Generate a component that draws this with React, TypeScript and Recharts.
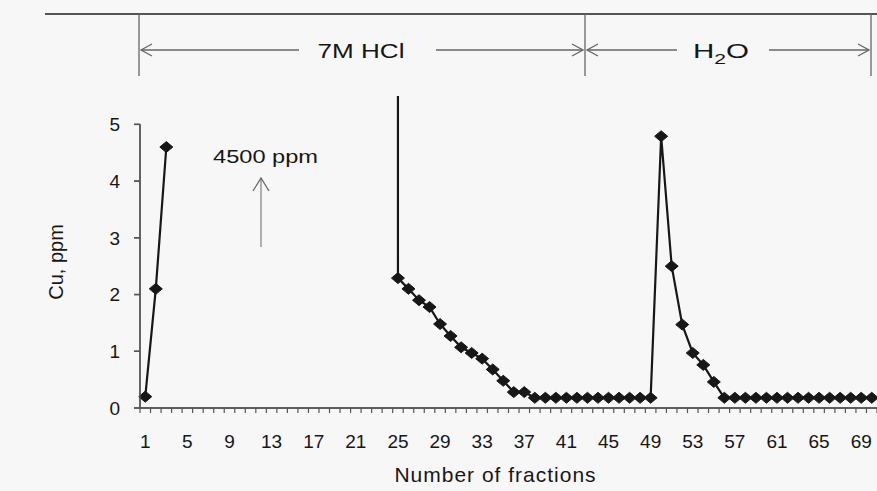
import { Label, Line, LineChart, ReferenceLine, XAxis, YAxis } from "recharts";

// Cu in the eluate, ppm, fraction by fraction (1..70).
// Fractions 4-23 were not plotted; 24 is the off-scale 4500 ppm peak.
const CU_PPM: (number | null)[] = [
  0.2, 2.1, 4.6,
  null, null, null, null, null, null, null, null, null, null,
  null, null, null, null, null, null, null, null, null, null,
  4500,
  2.29, 2.1, 1.9, 1.78, 1.48, 1.27, 1.07, 0.97, 0.87, 0.68, 0.48, 0.28, 0.28,
  0.18, 0.18, 0.18, 0.18, 0.18, 0.18, 0.18, 0.18, 0.18, 0.18, 0.18, 0.18,
  4.79, 2.5, 1.47, 0.97, 0.76, 0.46,
  0.18, 0.18, 0.18, 0.18, 0.18, 0.18, 0.18, 0.18, 0.18, 0.18, 0.18, 0.18, 0.18, 0.18, 0.18,
];

const X_LABEL_TICKS = [1, 5, 9, 13, 17, 21, 25, 29, 33, 37, 41, 45, 49, 53, 57, 61, 65, 69];
const Y_TICKS = [0, 1, 2, 3, 4, 5];
const Y_MAX = 5.5;

const W = 877;
const H = 491;
// plot box: margin.top, YAxis width, and the two stacked x axes (8 + 75)
const PLOT_TOP = 96;
const PLOT_LEFT = 140;
const PLOT_BOTTOM = H - 8 - 75;

const FONT = '"Liberation Sans", Arial, sans-serif';
const INK = "#171717";
const TEXT = "#161616";
const AXIS = "#555555";
const RULE = "#666666";

const data = CU_PPM.map((cu, i) => ({ fraction: i + 1, cu }));
// tick marks sit between the fractions, like an Excel category axis
const boundaries = [0.5, ...data.map((d) => d.fraction + 0.5)];
const X_DOMAIN: [number, number] = [0.5, CU_PPM.length + 0.5];

const yPix = (v: number) => PLOT_BOTTOM - (v / Y_MAX) * (PLOT_BOTTOM - PLOT_TOP);

function Diamond(props: any) {
  const { cx, cy, index } = props;
  if (!Number.isFinite(cx) || !Number.isFinite(cy)) return <g key={`d-${index}`} />;
  return (
    <polygon
      key={`d-${index}`}
      points={`${cx},${cy - 5.5} ${cx + 6.5},${cy} ${cx},${cy + 5.5} ${cx - 6.5},${cy}`}
      fill={INK}
      stroke={INK}
      strokeWidth={1}
      strokeLinejoin="round"
    />
  );
}

const NoLabel = () => <g />;

function ArrowHead({ x, y, dir }: { x: number; y: number; dir: "left" | "right" | "up" }) {
  let pts = "";
  if (dir === "left") pts = `${x + 11},${y - 6} ${x},${y} ${x + 11},${y + 6}`;
  if (dir === "right") pts = `${x - 11},${y - 6} ${x},${y} ${x - 11},${y + 6}`;
  if (dir === "up") pts = `${x - 8},${y + 13} ${x},${y} ${x + 8},${y + 13}`;
  return <polyline points={pts} fill="none" stroke={RULE} strokeWidth={1.3} />;
}

function Annotations() {
  const rowY = 50;
  return (
    <svg width={W} height={H} style={{ position: "absolute", left: 0, top: 0, pointerEvents: "none" }}>
      {/* left axis frame: stops at 5 while the plot runs up to 5.5 */}
      <line x1={PLOT_LEFT} y1={yPix(0)} x2={PLOT_LEFT} y2={yPix(5)} stroke={AXIS} strokeWidth={1.4} />
      {Y_TICKS.map((t) => (
        <line key={t} x1={PLOT_LEFT - 6} y1={yPix(t)} x2={PLOT_LEFT} y2={yPix(t)} stroke={AXIS} strokeWidth={1.4} />
      ))}
      <line x1={PLOT_LEFT} y1={PLOT_BOTTOM} x2={W} y2={PLOT_BOTTOM} stroke={AXIS} strokeWidth={1.4} />

      <line x1={45} y1={14} x2={W} y2={14} stroke="#555" strokeWidth={2} />
      {[139, 585, 871].map((x) => (
        <line key={x} x1={x} y1={14} x2={x} y2={76} stroke={RULE} strokeWidth={1.3} />
      ))}

      <line x1={141} y1={rowY} x2={299} y2={rowY} stroke={RULE} strokeWidth={1.3} />
      <line x1={436} y1={rowY} x2={583} y2={rowY} stroke={RULE} strokeWidth={1.3} />
      <ArrowHead x={141} y={rowY} dir="left" />
      <ArrowHead x={583} y={rowY} dir="right" />
      <text x={361} y={rowY + 7.5} textAnchor="middle" fontSize={21} fontFamily={FONT} fill={TEXT}
        textLength={87} lengthAdjust="spacingAndGlyphs">
        7M HCl
      </text>

      <line x1={587} y1={rowY} x2={677} y2={rowY} stroke={RULE} strokeWidth={1.3} />
      <line x1={769} y1={rowY} x2={869} y2={rowY} stroke={RULE} strokeWidth={1.3} />
      <ArrowHead x={587} y={rowY} dir="left" />
      <ArrowHead x={869} y={rowY} dir="right" />
      <text x={721} y={rowY + 7.5} textAnchor="middle" fontSize={21} fontFamily={FONT} fill={TEXT}
        textLength={56} lengthAdjust="spacingAndGlyphs">
        H<tspan fontSize={15} dy={6}>2</tspan><tspan dy={-6}>O</tspan>
      </text>

      <text x={213} y={163} fontSize={18} fontFamily={FONT} fill={TEXT}
        textLength={105} lengthAdjust="spacingAndGlyphs">
        4500 ppm
      </text>
      <line x1={261} y1={247} x2={261} y2={179} stroke="#888" strokeWidth={1.3} />
      <ArrowHead x={261} y={178} dir="up" />
    </svg>
  );
}

const tickStyle = { fill: TEXT, fontSize: 19, fontFamily: FONT };

export default function App() {
  return (
    <div style={{ position: "absolute", left: 0, top: 0, width: W, height: H, background: "#f7f7f7" }}>
      <LineChart width={W} height={H} data={data} margin={{ top: PLOT_TOP, right: 0, bottom: 0, left: 0 }}>
        <XAxis
          xAxisId="grid"
          dataKey="fraction"
          type="number"
          domain={X_DOMAIN}
          ticks={boundaries}
          interval={0}
          tick={NoLabel}
          tickSize={5}
          height={8}
          stroke={AXIS}
          axisLine={{ stroke: AXIS, strokeWidth: 1.4 }}
          tickLine={{ stroke: AXIS, strokeWidth: 1.2 }}
        />
        <XAxis
          xAxisId="labels"
          dataKey="fraction"
          type="number"
          domain={X_DOMAIN}
          ticks={X_LABEL_TICKS}
          interval={0}
          axisLine={false}
          tickLine={false}
          tickSize={0}
          tickMargin={19}
          height={75}
          tick={tickStyle}
        >
          <Label
            content={({ viewBox }: any) => (
              <text
                x={viewBox.x + viewBox.width / 2 - 13}
                y={viewBox.y + 66}
                textAnchor="middle"
                fontSize={21}
                fontFamily={FONT}
                fill={TEXT}
                letterSpacing={1}
              >
                Number of fractions
              </text>
            )}
          />
        </XAxis>
        <YAxis
          domain={[0, Y_MAX]}
          allowDataOverflow
          ticks={Y_TICKS}
          interval={0}
          width={PLOT_LEFT}
          stroke={AXIS}
          axisLine={false}
          tickLine={{ stroke: AXIS, strokeWidth: 1.4 }}
          tickSize={6}
          tickMargin={14}
          tick={tickStyle}
        >
          <Label
            content={({ viewBox }: any) => {
              const x = viewBox.x + 56;
              const y = viewBox.y + viewBox.height / 2 + 10;
              return (
                <text
                  x={x}
                  y={y}
                  transform={`rotate(-90, ${x}, ${y})`}
                  textAnchor="middle"
                  dominantBaseline="central"
                  fontSize={20}
                  fontFamily={FONT}
                  fill={TEXT}
                >
                  Cu, ppm
                </text>
              );
            }}
          />
        </YAxis>
        <ReferenceLine
          xAxisId="labels"
          segment={[{ x: X_DOMAIN[0], y: 0 }, { x: X_DOMAIN[0], y: 5 }]}
          stroke={AXIS}
          strokeWidth={1.4}
        />
        <Line
          xAxisId="labels"
          dataKey="cu"
          stroke={INK}
          strokeWidth={2.2}
          dot={Diamond}
          activeDot={false}
          connectNulls={false}
          isAnimationActive={false}
        />
      </LineChart>
      <Annotations />
    </div>
  );
}
